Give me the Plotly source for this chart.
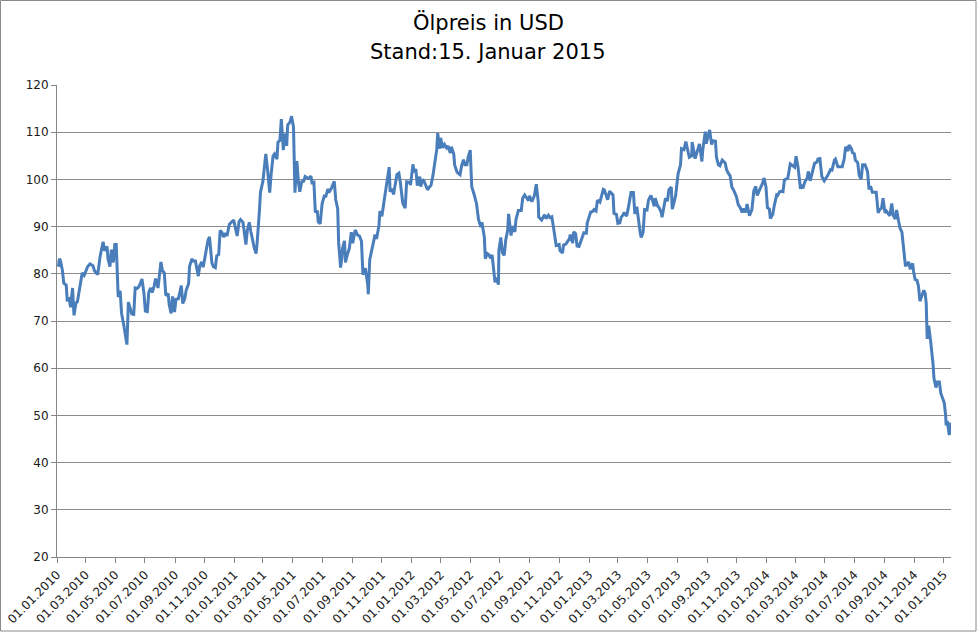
import plotly.graph_objects as go

dates_2010 = ["2010-01-04","2010-01-06","2010-01-08","2010-01-12","2010-01-15","2010-01-20","2010-01-22","2010-01-26","2010-01-29",
"2010-02-02","2010-02-05","2010-02-09","2010-02-12","2010-02-17","2010-02-22","2010-02-26","2010-03-03","2010-03-05","2010-03-10",
"2010-03-16","2010-03-19","2010-03-24","2010-03-26","2010-03-31","2010-04-06","2010-04-09","2010-04-14","2010-04-16","2010-04-20",
"2010-04-23","2010-04-27","2010-04-30","2010-05-03","2010-05-05","2010-05-07","2010-05-11","2010-05-14","2010-05-18","2010-05-20",
"2010-05-25","2010-05-28","2010-06-01","2010-06-04","2010-06-08","2010-06-11","2010-06-15","2010-06-18","2010-06-21","2010-06-25",
"2010-06-29","2010-07-02","2010-07-06","2010-07-09","2010-07-13","2010-07-16","2010-07-20","2010-07-23","2010-07-28","2010-08-03",
"2010-08-06","2010-08-10","2010-08-13","2010-08-18","2010-08-20","2010-08-24","2010-08-27","2010-08-31","2010-09-03","2010-09-08",
"2010-09-14","2010-09-17","2010-09-21","2010-09-24","2010-09-29","2010-10-01","2010-10-06","2010-10-08","2010-10-13","2010-10-15",
"2010-10-19","2010-10-22","2010-10-26","2010-10-29","2010-11-03","2010-11-08","2010-11-11","2010-11-16","2010-11-19","2010-11-23",
"2010-11-26","2010-11-30","2010-12-03","2010-12-07","2010-12-10","2010-12-14","2010-12-17","2010-12-22","2010-12-27","2010-12-31"]
prices_2010 = [81.5,83.2,82.8,80.8,78.0,77.6,74.5,74.7,72.9,
77.0,71.2,73.8,74.1,77.3,80.2,79.7,80.9,81.5,82.1,
81.7,80.7,80.0,80.0,83.8,86.8,84.9,85.8,83.2,81.5,
85.1,82.4,86.2,86.2,80.0,75.1,76.4,71.6,69.4,68.0,
65.0,74.0,72.6,71.5,71.4,77.0,76.9,77.2,77.8,78.9,
75.9,72.1,72.0,76.1,77.0,76.0,77.4,79.0,77.0,82.5,
80.7,80.2,75.4,75.8,73.5,71.6,75.2,71.9,74.6,74.7,
77.5,73.7,74.7,76.5,77.9,81.6,83.2,82.7,82.7,81.3,
79.5,81.7,82.5,81.4,84.7,87.1,87.8,82.3,81.5,81.3,
83.8,84.1,89.2,88.7,87.8,88.6,88.0,90.5,91.0,91.4]

dates_2011 = ["2011-01-04","2011-01-07","2011-01-11","2011-01-14","2011-01-19","2011-01-21","2011-01-25","2011-01-28","2011-02-01",
"2011-02-04","2011-02-08","2011-02-11","2011-02-15","2011-02-17","2011-02-22","2011-02-24","2011-03-01","2011-03-03","2011-03-07",
"2011-03-10","2011-03-15","2011-03-18","2011-03-22","2011-03-25","2011-03-30","2011-04-01","2011-04-05","2011-04-08","2011-04-12",
"2011-04-15","2011-04-19","2011-04-21","2011-04-26","2011-04-29","2011-05-03","2011-05-06","2011-05-10","2011-05-13","2011-05-16",
"2011-05-20","2011-05-24","2011-05-27","2011-06-01","2011-06-03","2011-06-08","2011-06-10","2011-06-14","2011-06-17","2011-06-21",
"2011-06-23","2011-06-27","2011-07-01","2011-07-06","2011-07-08","2011-07-13","2011-07-15","2011-07-20","2011-07-26","2011-07-29",
"2011-08-02","2011-08-04","2011-08-08","2011-08-10","2011-08-12","2011-08-16","2011-08-18","2011-08-22","2011-08-26","2011-08-30",
"2011-09-02","2011-09-07","2011-09-12","2011-09-16","2011-09-20","2011-09-23","2011-09-28","2011-10-03","2011-10-04","2011-10-07",
"2011-10-12","2011-10-14","2011-10-18","2011-10-21","2011-10-26","2011-10-28","2011-11-01","2011-11-04","2011-11-08","2011-11-11",
"2011-11-16","2011-11-18","2011-11-22","2011-11-25","2011-11-29","2011-12-02","2011-12-06","2011-12-09","2011-12-14","2011-12-19",
"2011-12-22","2011-12-28","2011-12-30"]
prices_2011 = [89.4,88.0,91.1,91.5,90.9,89.1,86.2,89.3,90.9,
89.0,86.9,85.6,84.3,86.4,93.6,97.3,99.6,101.9,105.4,
102.7,97.2,101.1,105.0,105.4,104.3,107.9,108.3,112.8,106.2,
109.7,107.1,111.5,112.2,113.4,111.1,97.2,103.9,99.6,97.4,
99.5,99.6,100.6,100.3,100.2,100.7,99.3,99.4,93.0,93.4,
91.0,90.6,94.9,96.7,96.2,98.0,97.2,98.1,99.6,95.7,
93.8,86.6,81.3,82.9,85.4,87.0,82.4,84.1,85.4,88.8,
86.5,89.3,88.2,88.0,86.9,79.8,81.2,77.6,75.7,83.0,
85.6,86.8,88.3,87.4,90.2,93.3,92.2,94.3,96.8,99.0,
102.6,97.4,98.0,96.8,99.8,101.0,101.3,99.4,95.0,93.9,
99.5,99.4,98.8]

dates_2012 = ["2012-01-04","2012-01-06","2012-01-10","2012-01-13","2012-01-18","2012-01-20","2012-01-24","2012-01-27","2012-01-31",
"2012-02-03","2012-02-07","2012-02-10","2012-02-14","2012-02-17","2012-02-22","2012-02-24","2012-02-28","2012-03-01","2012-03-05",
"2012-03-09","2012-03-13","2012-03-16","2012-03-21","2012-03-23","2012-03-28","2012-03-30","2012-04-04","2012-04-10","2012-04-13",
"2012-04-17","2012-04-20","2012-04-24","2012-04-27","2012-05-01","2012-05-04","2012-05-09","2012-05-14","2012-05-18","2012-05-23",
"2012-05-25","2012-05-30","2012-06-01","2012-06-05","2012-06-08","2012-06-12","2012-06-15","2012-06-21","2012-06-25","2012-06-28",
"2012-06-29","2012-07-03","2012-07-06","2012-07-10","2012-07-13","2012-07-17","2012-07-19","2012-07-24","2012-07-27","2012-08-01",
"2012-08-03","2012-08-08","2012-08-14","2012-08-17","2012-08-21","2012-08-24","2012-08-29","2012-08-31","2012-09-05","2012-09-10",
"2012-09-14","2012-09-18","2012-09-19","2012-09-25","2012-10-01","2012-10-04","2012-10-09","2012-10-12","2012-10-16","2012-10-19",
"2012-10-25","2012-10-31","2012-11-02","2012-11-07","2012-11-09","2012-11-14","2012-11-16","2012-11-21","2012-11-23","2012-11-28",
"2012-11-30","2012-12-04","2012-12-07","2012-12-11","2012-12-14","2012-12-18","2012-12-21","2012-12-26","2012-12-28","2012-12-31"]
prices_2012 = [103.2,101.6,102.2,98.7,100.6,98.5,100.0,99.6,98.5,
97.8,98.4,98.7,100.7,103.2,106.3,109.8,106.5,108.8,106.7,
107.4,106.7,107.1,105.6,106.9,105.4,103.0,101.5,101.0,102.8,
104.2,103.1,103.1,104.9,106.2,98.5,96.8,94.8,91.5,89.9,
90.9,87.8,83.2,84.3,84.1,83.3,84.0,78.2,79.2,77.7,
85.0,87.7,84.5,83.9,87.1,89.2,92.7,88.1,90.1,88.9,
91.4,93.4,93.4,96.0,96.7,96.2,95.5,96.5,95.3,96.5,
99.0,95.3,92.0,91.4,92.5,91.7,92.4,91.9,92.1,90.1,
86.0,86.2,84.9,84.4,86.1,86.3,86.7,87.4,88.3,86.5,
88.9,88.5,85.9,85.8,86.7,87.9,88.7,88.6,90.8,91.8]

dates_2013 = ["2013-01-04","2013-01-08","2013-01-11","2013-01-15","2013-01-18","2013-01-23","2013-01-25","2013-01-30","2013-02-01",
"2013-02-05","2013-02-08","2013-02-12","2013-02-14","2013-02-19","2013-02-21","2013-02-26","2013-03-01","2013-03-05","2013-03-08",
"2013-03-12","2013-03-14","2013-03-19","2013-03-22","2013-03-27","2013-03-28","2013-04-02","2013-04-05","2013-04-09","2013-04-12",
"2013-04-16","2013-04-18","2013-04-22","2013-04-25","2013-04-30","2013-05-03","2013-05-08","2013-05-10","2013-05-15","2013-05-17",
"2013-05-22","2013-05-24","2013-05-29","2013-05-31","2013-06-05","2013-06-07","2013-06-11","2013-06-14","2013-06-19","2013-06-21",
"2013-06-25","2013-06-28","2013-07-03","2013-07-08","2013-07-10","2013-07-15","2013-07-19","2013-07-24","2013-07-26","2013-07-31",
"2013-08-01","2013-08-07","2013-08-12","2013-08-16","2013-08-21","2013-08-23","2013-08-28","2013-08-30","2013-09-06","2013-09-10",
"2013-09-13","2013-09-18","2013-09-20","2013-09-24","2013-09-27","2013-10-02","2013-10-08","2013-10-11","2013-10-15","2013-10-18",
"2013-10-22","2013-10-25","2013-10-31","2013-11-04","2013-11-07","2013-11-12","2013-11-15","2013-11-19","2013-11-22","2013-11-27",
"2013-12-02","2013-12-06","2013-12-10","2013-12-13","2013-12-18","2013-12-24","2013-12-27","2013-12-31"]
prices_2013 = [93.1,93.2,93.6,93.3,95.6,95.2,95.9,97.9,97.8,
96.6,95.7,97.5,97.3,96.7,92.8,92.6,90.7,90.8,92.0,
92.5,93.0,92.2,93.7,96.6,97.2,97.2,92.7,94.2,91.3,
88.7,87.7,88.8,93.6,93.5,95.6,96.6,96.0,94.3,96.0,
94.3,94.2,93.1,92.0,94.7,96.0,95.4,97.8,98.4,93.7,
95.3,96.6,101.2,103.1,106.5,106.3,108.0,105.4,104.7,105.0,
107.9,104.4,106.1,107.5,103.8,106.4,110.1,107.6,110.5,107.4,
108.2,108.1,104.7,103.1,102.9,104.1,103.5,102.0,101.2,100.8,
98.3,97.8,96.4,94.6,94.2,93.0,93.8,93.0,94.8,92.3,
93.6,97.6,98.5,96.6,97.8,99.2,100.3,98.4]

dates_2014 = ["2014-01-03","2014-01-07","2014-01-09","2014-01-14","2014-01-17","2014-01-22","2014-01-24","2014-01-28","2014-01-31",
"2014-02-04","2014-02-07","2014-02-11","2014-02-14","2014-02-19","2014-02-24","2014-02-28","2014-03-03","2014-03-07","2014-03-12",
"2014-03-14","2014-03-17","2014-03-21","2014-03-26","2014-03-28","2014-04-01","2014-04-04","2014-04-10","2014-04-15","2014-04-17",
"2014-04-21","2014-04-25","2014-04-30","2014-05-02","2014-05-07","2014-05-13","2014-05-16","2014-05-21","2014-05-23","2014-05-28",
"2014-05-30","2014-06-04","2014-06-06","2014-06-10","2014-06-13","2014-06-18","2014-06-20","2014-06-25","2014-06-27","2014-07-01",
"2014-07-03","2014-07-08","2014-07-11","2014-07-15","2014-07-18","2014-07-23","2014-07-28","2014-07-31","2014-08-04","2014-08-07",
"2014-08-12","2014-08-15","2014-08-19","2014-08-22","2014-08-26","2014-08-29","2014-09-02","2014-09-05","2014-09-09","2014-09-12",
"2014-09-16","2014-09-19","2014-09-23","2014-09-26","2014-09-30","2014-10-03","2014-10-07","2014-10-10","2014-10-14","2014-10-16",
"2014-10-21","2014-10-24","2014-10-29","2014-10-31","2014-11-03","2014-11-07","2014-11-10","2014-11-13","2014-11-17","2014-11-21",
"2014-11-24","2014-11-26","2014-11-28","2014-12-01","2014-12-05","2014-12-08","2014-12-10","2014-12-12","2014-12-16","2014-12-19",
"2014-12-23","2014-12-26","2014-12-29","2014-12-31"]
prices_2014 = [94.0,93.7,91.7,92.6,94.4,96.7,96.6,97.4,97.5,
97.4,99.9,100.1,100.3,103.3,102.8,102.6,104.9,102.6,98.0,
98.9,98.1,99.5,100.3,101.7,99.7,101.1,103.4,103.7,104.3,
104.4,100.6,99.7,100.0,100.8,102.1,102.0,104.1,104.3,102.7,
102.7,102.6,102.7,104.3,106.9,106.0,107.3,106.5,105.7,105.4,
104.1,103.5,100.8,100.0,103.1,103.1,101.7,98.2,98.3,97.3,
97.4,97.3,92.9,93.6,93.9,96.0,92.9,93.3,92.7,92.3,
94.9,92.4,91.6,93.5,91.2,89.7,88.8,85.8,81.8,81.8,
82.5,81.0,82.2,80.5,78.8,78.6,77.4,74.2,75.6,76.5,
75.8,73.7,66.2,69.0,65.8,63.0,60.9,57.8,55.9,57.1,
57.1,54.7,53.6,53.3]

dates_2015 = ["2015-01-02","2015-01-05","2015-01-06","2015-01-08","2015-01-09","2015-01-12","2015-01-13","2015-01-14","2015-01-15"]
prices_2015 = [52.7,50.0,47.9,48.8,48.4,46.1,45.9,48.5,46.3]

dates = dates_2010 + dates_2011 + dates_2012 + dates_2013 + dates_2014 + dates_2015
prices = prices_2010 + prices_2011 + prices_2012 + prices_2013 + prices_2014 + prices_2015

title_line1 = "Ölpreis in USD"
title_line2 = "Stand:15. Januar 2015"

FONT = "DejaVu Sans"

fig = go.Figure()
fig.add_trace(go.Scatter(x=dates, y=prices, mode="lines",
                         line=dict(color="#4a7ebb", width=3), hoverinfo="x+y"))

# plot area: x 57..951 px, y 85..557 px
fig.update_layout(
    width=977, height=632,
    margin=dict(l=57, r=26, t=85, b=75),
    paper_bgcolor="white", plot_bgcolor="white",
    showlegend=False,
    font=dict(family=FONT, color="#1a1a1a"),
    annotations=[
        dict(text=title_line1, xref="paper", yref="paper", x=(488-57)/894, y=(557-22)/472,
             xanchor="center", yanchor="middle", showarrow=False,
             font=dict(family=FONT, size=21, color="#000000")),
        dict(text=title_line2, xref="paper", yref="paper", x=(488-57)/894, y=(557-52)/472,
             xanchor="center", yanchor="middle", showarrow=False,
             font=dict(family=FONT, size=21, color="#000000")),
    ],
    shapes=[
        dict(type="rect", xref="paper", yref="paper",
             x0=(0.5-57)/894, x1=(976-57)/894, y0=(557-631)/472, y1=(557-0.5)/472,
             line=dict(color="#8a8a8a", width=1), fillcolor="rgba(0,0,0,0)", layer="below"),
    ],
)
fig.update_xaxes(
    type="date", range=["2010-01-01", "2015-01-16"], automargin=False,
    tick0="2010-01-01", dtick="M2", tickformat="%d.%m.%Y", tickangle=-45,
    ticks="outside", ticklen=5, tickcolor="#868686",
    showline=True, linecolor="#868686", linewidth=1,
    showgrid=False, zeroline=False,
    tickfont=dict(family=FONT, size=12, color="#1a1a1a"),
)
fig.update_yaxes(
    range=[20, 120], dtick=10, tick0=20, automargin=False,
    ticks="outside", ticklen=5, tickcolor="#868686",
    showline=True, linecolor="#868686", linewidth=1,
    showgrid=True, gridcolor="#8c8c8c", gridwidth=1, zeroline=False,
    tickfont=dict(family=FONT, size=12, color="#1a1a1a"),
)

fig.write_html("out.html", config={"displayModeBar": False},
               post_script="document.body.style.margin='0px';")
